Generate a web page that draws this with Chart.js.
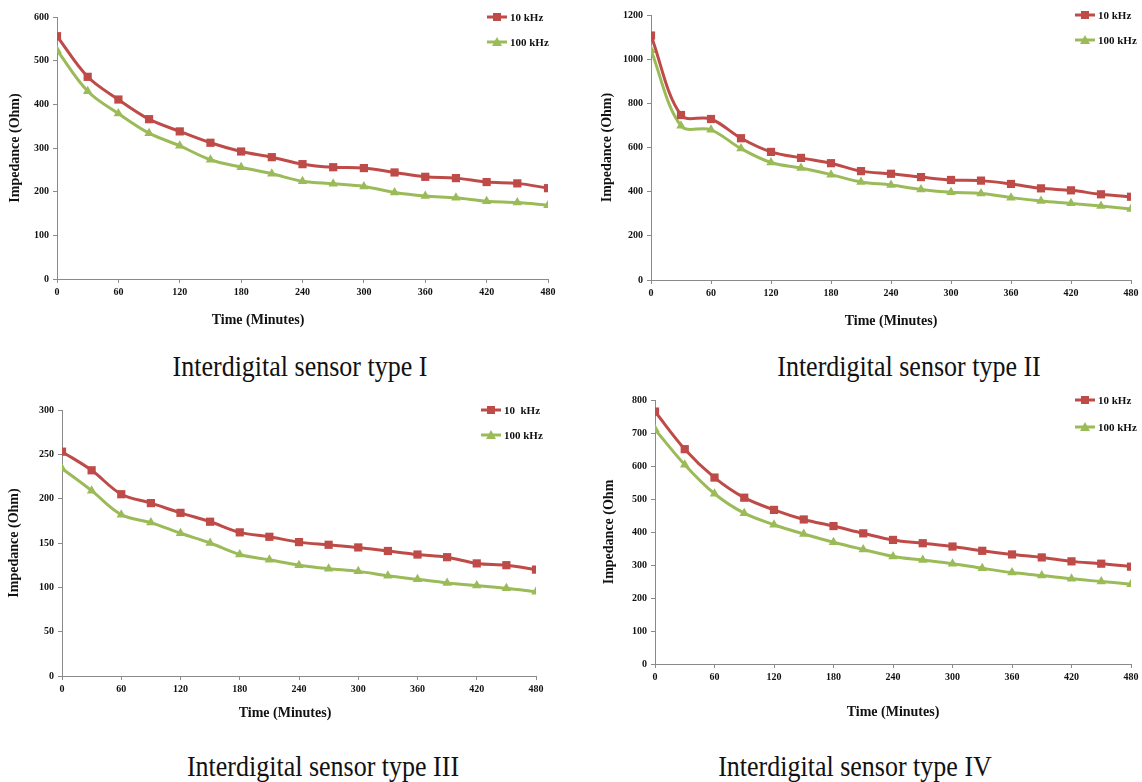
<!DOCTYPE html>
<html>
<head>
<meta charset="utf-8">
<script src="https://cdn.jsdelivr.net/npm/chart.js@4/dist/chart.umd.min.js"></script>
<style>
  body { margin: 0; background: #fff; }
  #page { position: relative; width: 1142px; height: 782px; overflow: hidden; }
  canvas { position: absolute; }
  .cap { position: absolute; transform: translate(-50%, -50%) scaleY(1.1); white-space: nowrap;
         font-family: "Liberation Serif", "DejaVu Serif", serif; font-size: 26px; color: #111; }
</style>
</head>
<body>
<div id="page">
  <canvas id="c1" width="570" height="335" style="left:0;top:0"></canvas>
  <canvas id="c2" width="567" height="335" style="left:575px;top:0"></canvas>
  <canvas id="c3" width="570" height="335" style="left:0;top:395px"></canvas>
  <canvas id="c4" width="567" height="345" style="left:575px;top:385px"></canvas>
</div>
<script>
// time axis, minutes
const minutes = [0, 30, 60, 90, 120, 150, 180, 210, 240, 270, 300, 330, 360, 390, 420, 450, 480];

// impedance (Ohm)
const typeI_10k   = [556, 463, 411, 366, 338, 312, 292, 279, 263, 256, 254, 244, 234, 231, 222, 219, 208];
const typeI_100k  = [524, 430, 379, 334, 305, 273, 256, 241, 224, 218, 212, 198, 190, 186, 178, 175, 169];
const typeII_10k  = [1107, 747, 729, 642, 580, 553, 529, 493, 481, 466, 453, 450, 435, 415, 406, 388, 377];
const typeII_100k = [1040, 698, 680, 595, 532, 507, 477, 444, 430, 410, 397, 392, 373, 358, 347, 335, 322];
const typeIII_10k  = [253, 232, 205, 195, 184, 174, 162, 157, 151, 148, 145, 141, 137, 134, 127, 125, 120];
const typeIII_100k = [234, 209, 182, 173, 161, 150, 137, 131, 125, 121, 118, 113, 109, 105, 102, 99, 95];
const typeIV_10k  = [765, 651, 565, 504, 467, 438, 418, 396, 376, 366, 356, 343, 332, 323, 311, 304, 295];
const typeIV_100k = [711, 604, 516, 457, 422, 394, 369, 347, 326, 315, 304, 290, 277, 268, 258, 250, 242];

const captions = ["Interdigital sensor type I", "Interdigital sensor type II",
                  "Interdigital sensor type III", "Interdigital sensor type IV"];
const lowLabels  = ["10 kHz", "10 kHz", "10  kHz", "10 kHz"];
const highLabels = ["100 kHz", "100 kHz", "100 kHz", "100 kHz"];
const yTitles = ["Impedance (Ohm)", "Impedance (Ohm)", "Impedance (Ohm)", "Impedance (Ohm"];
const yMax  = [600, 1200, 300, 800];
const yStep = [100, 200, 50, 100];
const xTitle = "Time (Minutes)";

const RED = "#BE4B48";
const GREEN = "#9BBB59";
const AXIS = "#8a8a8a";
const SERIF = "'Liberation Serif', 'DejaVu Serif', serif";

// layout per panel (canvas-relative): y-axis width, right pad, top pad, x-axis height,
// y title centre x, x title centre (x, distance from bottom), legend offsets
const panels = [
  { id: "c1", yW: 57, padR: 22, padT: 17, xH: 56, yTitleX: 15, xTitleX: 258, xTitleB: 15, legX: -61, legY: [0, 25] },
  { id: "c2", yW: 76, padR: 11, padT: 15, xH: 55, yTitleX: 32, xTitleX: 316, xTitleB: 14, legX: -56, legY: [0, 25] },
  { id: "c3", yW: 62, padR: 34, padT: 15, xH: 54, yTitleX: 14, xTitleX: 285, xTitleB: 17, legX: -55, legY: [0, 25] },
  { id: "c4", yW: 80, padR: 11, padT: 15, xH: 66, yTitleX: 34, xTitleX: 318, xTitleB: 18, legX: -56, legY: [0, 27] }
];
const lows  = [typeI_10k, typeII_10k, typeIII_10k, typeIV_10k];
const highs = [typeI_100k, typeII_100k, typeIII_100k, typeIV_100k];
const capPos = [[300, 367], [909, 367], [323, 767], [855, 767]];

const toPoints = (vals) => vals.map((v, i) => ({ x: minutes[i], y: v }));

function drawMarker(ctx, style, x, y, color) {
  ctx.fillStyle = color;
  ctx.beginPath();
  if (style === "rect") {
    ctx.rect(x - 4, y - 4, 8, 8);
  } else {
    ctx.moveTo(x, y - 5);
    ctx.lineTo(x + 5, y + 4);
    ctx.lineTo(x - 5, y + 4);
    ctx.closePath();
  }
  ctx.fill();
}

// legend inside the top right corner of the plot, plus the x title
// (which sits off-centre in two of the panels)
const cornerLegend = {
  id: "cornerLegend",
  afterDraw(chart, args, opts) {
    const ctx = chart.ctx;
    const area = chart.chartArea;
    ctx.save();
    chart.data.datasets.forEach((ds, i) => {
      const x0 = area.right + opts.x;
      const y = area.top + opts.y[i];
      ctx.strokeStyle = ds.borderColor;
      ctx.lineWidth = 3;
      ctx.beginPath();
      ctx.moveTo(x0, y);
      ctx.lineTo(x0 + 20, y);
      ctx.stroke();
      drawMarker(ctx, ds.pointStyle, x0 + 10, y, ds.borderColor);
      ctx.fillStyle = "#111";
      ctx.font = "bold 11px " + SERIF;
      ctx.textBaseline = "middle";
      ctx.textAlign = "left";
      ctx.fillText(ds.label, x0 + 23, y + 1);
    });
    ctx.font = "bold 14px " + SERIF;
    ctx.textAlign = "center";
    ctx.textBaseline = "middle";
    ctx.fillText(opts.title, opts.titleX, chart.height - opts.titleB);
    ctx.restore();
  }
};

panels.forEach((p, k) => {
  const canvas = document.getElementById(p.id);
  new Chart(canvas, {
    type: "line",
    data: {
      datasets: [
        {
          label: lowLabels[k],
          data: toPoints(lows[k]),
          borderColor: RED, backgroundColor: RED,
          borderWidth: 3, pointStyle: "rect", pointRadius: 5.8, pointBorderWidth: 0,
          tension: 0.35
        },
        {
          label: highLabels[k],
          data: toPoints(highs[k]),
          borderColor: GREEN, backgroundColor: GREEN,
          borderWidth: 3, pointStyle: "triangle", pointRadius: 5.5, pointBorderWidth: 0,
          tension: 0.35
        }
      ]
    },
    options: {
      responsive: false,
      animation: false,
      devicePixelRatio: 1,
      layout: { padding: { left: 0, right: p.padR, top: p.padT, bottom: 0 } },
      plugins: {
        legend: { display: false },
        tooltip: { enabled: false },
        cornerLegend: { x: p.legX, y: p.legY, title: xTitle, titleX: p.xTitleX, titleB: p.xTitleB }
      },
      scales: {
        x: {
          type: "linear", min: 0, max: 480,
          afterFit: (s) => { s.height = p.xH; },
          border: { color: AXIS, width: 1 },
          grid: { drawOnChartArea: false, drawTicks: true, tickLength: 4, color: AXIS },
          ticks: { stepSize: 60, padding: 3, color: "#111", maxRotation: 0,
                   callback: (v) => String(v),
                   font: { family: SERIF, size: 10, weight: "bold" } },
          title: { display: false }
        },
        y: {
          min: 0, max: yMax[k],
          afterFit: (s) => { s.width = p.yW; },
          border: { color: AXIS, width: 1 },
          grid: { drawOnChartArea: false, drawTicks: true, tickLength: 4, color: AXIS },
          ticks: { stepSize: yStep[k], padding: 4, color: "#111",
                   callback: (v) => String(v),
                   font: { family: SERIF, size: 10, weight: "bold" } },
          title: { display: true, text: yTitles[k], color: "#111",
                   padding: { top: p.yTitleX - 8.4, bottom: 0 },
                   font: { family: SERIF, size: 14, weight: "bold" } }
        }
      }
    },
    plugins: [cornerLegend]
  });
});

const page = document.getElementById("page");
captions.forEach((text, k) => {
  const d = document.createElement("div");
  d.className = "cap";
  d.textContent = text;
  d.style.left = capPos[k][0] + "px";
  d.style.top = capPos[k][1] + "px";
  page.appendChild(d);
});
</script>
</body>
</html>
